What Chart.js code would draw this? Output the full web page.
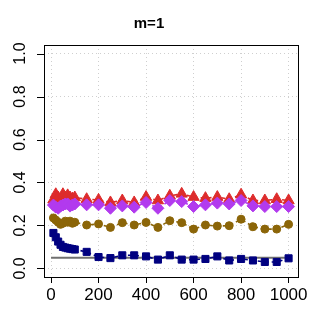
<!DOCTYPE html>
<html>
<head>
<meta charset="utf-8">
<script src="https://cdn.jsdelivr.net/npm/chart.js@4"></script>
<style>
  body { margin: 0; background: #fff; }
  #wrap { width: 321px; height: 334px; }
</style>
</head>
<body>
<div id="wrap"><canvas id="chart" width="321" height="334"></canvas></div>
<script>
// sample sizes on the x axis
const sizes = [10, 20, 30, 40, 50, 60, 70, 80, 90, 100,
  150, 200, 250, 300, 350, 400, 450, 500, 550, 600,
  650, 700, 750, 800, 850, 900, 950, 1000];

const redVals = [0.32, 0.345, 0.33, 0.31, 0.345, 0.33, 0.34, 0.33, 0.325, 0.33,
  0.322, 0.319, 0.307, 0.316, 0.307, 0.332, 0.316, 0.338, 0.347, 0.332,
  0.327, 0.332, 0.322, 0.343, 0.316, 0.316, 0.322, 0.316];
const purpleVals = [0.295, 0.285, 0.28, 0.29, 0.295, 0.30, 0.30, 0.29, 0.295, 0.30,
  0.296, 0.296, 0.28, 0.291, 0.285, 0.307, 0.28, 0.316, 0.311, 0.288,
  0.296, 0.304, 0.30, 0.316, 0.291, 0.288, 0.288, 0.288];
const brownVals = [0.235, 0.225, 0.215, 0.205, 0.21, 0.22, 0.215, 0.22, 0.21, 0.215,
  0.202, 0.207, 0.191, 0.213, 0.202, 0.214, 0.191, 0.222, 0.213, 0.183,
  0.202, 0.197, 0.199, 0.229, 0.194, 0.183, 0.183, 0.205];
const navyVals = [0.165, 0.145, 0.125, 0.11, 0.10, 0.097, 0.094, 0.092, 0.09, 0.088,
  0.077, 0.053, 0.048, 0.061, 0.061, 0.056, 0.041, 0.061, 0.041, 0.041,
  0.044, 0.056, 0.037, 0.044, 0.037, 0.03, 0.03, 0.047];

const refX = [0, 1000];
const refY = [0.05, 0.05];

const xTicks = [0, 200, 400, 600, 800, 1000];
const yTicks = [0.0, 0.2, 0.4, 0.6, 0.8, 1.0];

const FONT = '"Liberation Sans", Arial, sans-serif';

const pts = (xs, ys) => xs.map((x, i) => ({x: x, y: ys[i]}));

const series = (vals, color, shape, radius, order) => ({
  data: pts(sizes, vals),
  showLine: true,
  borderColor: color,
  borderWidth: 1.6,
  borderDash: [4, 3],
  pointStyle: shape,
  pointRadius: radius,
  pointBackgroundColor: color,
  pointBorderColor: color,
  pointBorderWidth: 1,
  order: order
});

// box round the plot, y tick marks and the upright y labels
const frame = {
  id: 'frame',
  afterDraw(chart) {
    const {ctx, chartArea: a, scales: {y}} = chart;
    const left = Math.round(a.left);
    ctx.save();
    ctx.setLineDash([]);
    ctx.fillStyle = '#000';
    yTicks.forEach(v => {
      const py = Math.round(y.getPixelForValue(v));
      ctx.fillRect(left - 7, py, 7, 1);
    });
    ctx.strokeStyle = '#000';
    ctx.lineWidth = 1;
    ctx.strokeRect(left + 0.5, Math.round(a.top) + 0.5,
      Math.round(a.right - a.left), Math.round(a.bottom - a.top));
    ctx.font = '16px ' + FONT;
    ctx.textAlign = 'center';
    ctx.textBaseline = 'middle';
    yTicks.forEach(v => {
      ctx.save();
      ctx.translate(21, y.getPixelForValue(v));
      ctx.rotate(-Math.PI / 2);
      ctx.fillText(v.toFixed(1), 0, 0);
      ctx.restore();
    });
    ctx.restore();
  }
};

new Chart(document.getElementById('chart'), {
  type: 'scatter',
  data: {
    datasets: [
      series(navyVals, '#000080', 'rect', 5, 1),
      series(brownVals, '#8B6508', 'circle', 4, 2),
      series(purpleVals, '#B23AEE', 'rectRot', 6, 3),
      series(redVals, '#DD2C2C', 'triangle', 6.5, 4),
      {
        data: pts(refX, refY),
        showLine: true,
        borderColor: '#707070',
        borderWidth: 2,
        pointRadius: 0,
        order: 5
      }
    ]
  },
  options: {
    responsive: false,
    animation: false,
    layout: { padding: { left: 0, right: 23, top: 0, bottom: 0 } },
    plugins: {
      legend: { display: false },
      tooltip: { enabled: false },
      title: {
        display: true,
        text: 'm=1',
        color: '#000',
        font: { family: FONT, size: 15, weight: 'bold' },
        padding: { top: 15, bottom: 12 }
      }
    },
    scales: {
      x: {
        type: 'linear',
        min: -29.6,
        max: 1039.6,
        afterBuildTicks: s => { s.ticks = xTicks.map(v => ({value: v})); },
        afterFit: s => { s.height = 57; },
        grid: {
          color: '#CFCFCF',
          lineWidth: 1,
          tickLength: 6,
          tickColor: '#000',
          tickBorderDash: []
        },
        border: { display: false, dash: [1, 3] },
        ticks: {
          color: '#000',
          padding: 2,
          maxRotation: 0,
          font: { family: FONT, size: 17 },
          callback: v => String(v)
        }
      },
      y: {
        type: 'linear',
        min: -0.04,
        max: 1.04,
        afterBuildTicks: s => { s.ticks = yTicks.map(v => ({value: v})); },
        afterFit: s => { s.width = 44; },
        grid: {
          color: '#CFCFCF',
          lineWidth: 1,
          drawTicks: false
        },
        border: { display: false, dash: [1, 3] },
        ticks: { display: false }
      }
    }
  },
  plugins: [frame]
});
</script>
</body>
</html>
